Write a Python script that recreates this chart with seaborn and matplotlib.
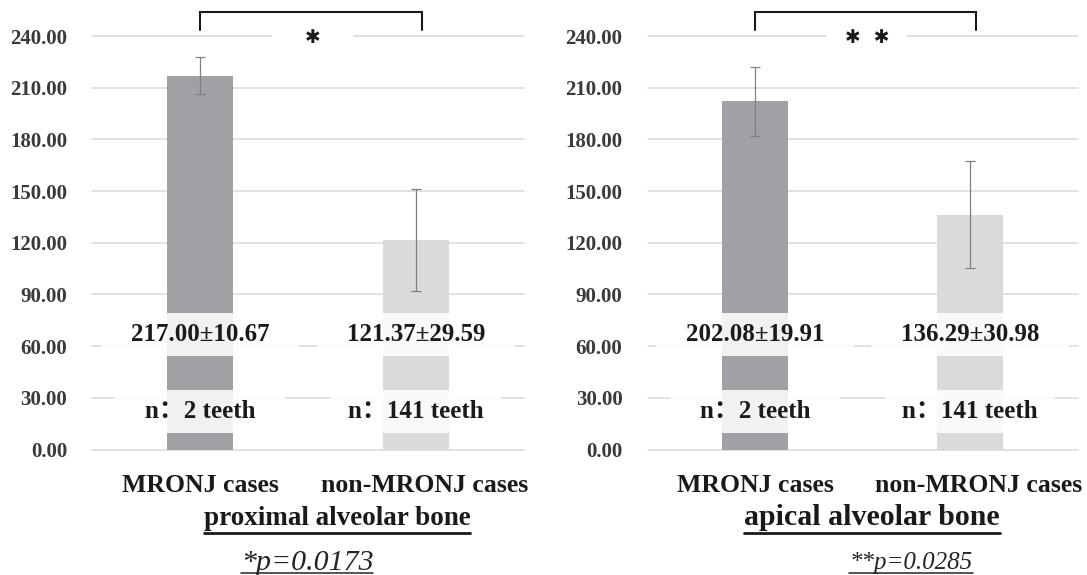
import matplotlib
matplotlib.use("Agg")
import matplotlib.pyplot as plt
from matplotlib.path import Path
from matplotlib.lines import Line2D
from matplotlib.transforms import ScaledTranslation
import pandas as pd
import seaborn as sns

# ---- data -------------------------------------------------------------
groups = ["MRONJ cases", "non-MRONJ cases"]
prox_mean = [217.00, 121.37]
prox_sd = [10.67, 29.59]
apic_mean = [202.08, 136.29]
apic_sd = [19.91, 30.98]
n_teeth = [2, 141]
panel_titles = ["proximal alveolar bone", "apical alveolar bone"]
p_labels = ["*p=0.0173", "**p=0.0285"]
sig_marks = ["\u2731", "\u2731  \u2731"]
y_ticks = [0, 30, 60, 90, 120, 150, 180, 210, 240]

bar_colors = ["#a0a1a5", "#d9dadc"]

sns.set_theme(style="white")
plt.rcParams["font.family"] = ["Liberation Serif", "Noto Sans CJK SC", "DejaVu Sans"]

W, H = 1087, 575
fig = plt.figure(figsize=(W / 100, H / 100), dpi=100)
fig.patch.set_facecolor("white")


def fixed_box(w_em, h_em):
    """Rectangular text background of a fixed size (in font-size units)."""
    def box(x0, y0, width, height, mutation_size):
        cx, cy = x0 + width / 2, y0 + height / 2
        hw, hh = w_em * mutation_size / 2, h_em * mutation_size / 2
        return Path([(cx - hw, cy - hh), (cx + hw, cy - hh), (cx + hw, cy + hh),
                     (cx - hw, cy + hh), (cx - hw, cy - hh)], closed=True)
    return box


panels = [
    dict(mean=prox_mean, sd=prox_sd, box=(92, 524), title=panel_titles[0],
         title_x=337, title_size=19.5, p=p_labels[0], p_x=307, p_size=21.5, sig=sig_marks[0]),
    dict(mean=apic_mean, sd=apic_sd, box=(647.5, 1077.5), title=panel_titles[1],
         title_x=872, title_size=21.5, p=p_labels[1], p_x=911, p_size=18, sig=sig_marks[1]),
]

y0_px, ytop_px = 449.5, 36
fig_texts = []
axes = []
for pnl in panels:
    left, right = pnl["box"]
    ax = fig.add_axes([left / W, 1 - y0_px / H, (right - left) / W, (y0_px - ytop_px) / H])
    axes.append(ax)
    df = pd.DataFrame({"group": groups, "mean": pnl["mean"]})
    sns.barplot(data=df, x="group", y="mean", hue="group", palette=bar_colors,
                width=0.31, errorbar=None, legend=False, saturation=1,
                linewidth=0, ax=ax, zorder=2)
    ax.errorbar(range(len(groups)), pnl["mean"], yerr=pnl["sd"], fmt="none",
                ecolor="#808080", elinewidth=0.9, capsize=3.5, capthick=0.9, zorder=3)

    ax.set_xlim(-0.5, 1.5)
    ax.set_ylim(0, 240)
    ax.set_yticks(y_ticks)
    ax.set_yticklabels([f"{v:.2f}" for v in y_ticks], fontsize=15,
                       fontweight="bold", color="#3a3a3a")
    ax.set_xticks(range(len(groups)))
    ax.set_xticklabels(groups, fontsize=18.5, fontweight="bold", color="#1a1a1a")
    ax.tick_params(axis="y", length=0, pad=18)
    ax.tick_params(axis="x", length=0, pad=18)
    ax.set_xlabel("")
    ax.set_ylabel("")
    for s in ax.spines.values():
        s.set_visible(False)
    ax.yaxis.grid(True, color="#d9d9d9", linewidth=1.1)
    ax.xaxis.grid(False)
    ax.set_axisbelow(True)
    for gl in ax.get_ygridlines():
        gl.set_clip_on(False)

    # value and sample-size labels on the bars
    for i, (m, s, n) in enumerate(zip(pnl["mean"], pnl["sd"], n_teeth)):
        ax.text(i, 66.5, f"{m:.2f}\u00b1{s:.2f}", ha="center", va="center",
                fontsize=18, fontweight="bold", color="#1a1a1a", zorder=5,
                bbox=dict(boxstyle=fixed_box(7.9, 1.72), fc="white", ec="none", alpha=0.86))
        ax.text(i, 21.8, f"n\uff1a{n} teeth", ha="center", va="center",
                fontsize=18, fontweight="bold", color="#1a1a1a", zorder=5,
                bbox=dict(boxstyle=fixed_box(6.8, 1.72), fc="white", ec="none", alpha=0.86))

    # significance bracket
    ax.plot([0, 0, 1.028, 1.028], [243.5, 254.2, 254.2, 243.5], color="#1a1a1a",
            lw=1.5, clip_on=False, solid_joinstyle="miter", zorder=6)
    ax.text(0.52, 239.2, pnl["sig"], ha="center", va="center", fontsize=13.5,
            family=["DejaVu Sans"], fontweight="bold", color="#1a1a1a", clip_on=False, zorder=6,
            bbox=dict(boxstyle=fixed_box(4.3, 0.8), fc="white", ec="none"))

    t = fig.text(pnl["title_x"] / W, 1 - 525.4 / H, pnl["title"], ha="center", va="baseline",
                 fontsize=pnl["title_size"], fontweight="bold", color="#1a1a1a")
    fig_texts.append((t, 8.0, 2.0))
    pt = fig.text(pnl["p_x"] / W, 1 - 569.5 / H, pnl["p"], ha="center", va="baseline",
                  fontsize=pnl["p_size"], fontstyle="italic", color="#262626")
    fig_texts.append((pt, 3.0, 1.1))

# underline the panel titles and p-values
fig.canvas.draw()
renderer = fig.canvas.get_renderer()
inv = fig.transFigure.inverted()
for txt, gap, lw in fig_texts:
    bb = txt.get_window_extent(renderer)
    base = fig.transFigure.transform(txt.get_position())[1]
    (x0, yu), (x1, _) = inv.transform([(bb.x0, base - gap), (bb.x1, base - gap)])
    fig.add_artist(Line2D([x0, x1], [yu, yu], transform=fig.transFigure,
                          color=txt.get_color(), lw=lw))

# the long second category label sits slightly right of its bar
for ax in axes:
    lbl = ax.get_xticklabels()[1]
    lbl.set_transform(lbl.get_transform() + ScaledTranslation(9 / 100, 0, fig.dpi_scale_trans))

fig.savefig("out.png", dpi=100, facecolor="white")
